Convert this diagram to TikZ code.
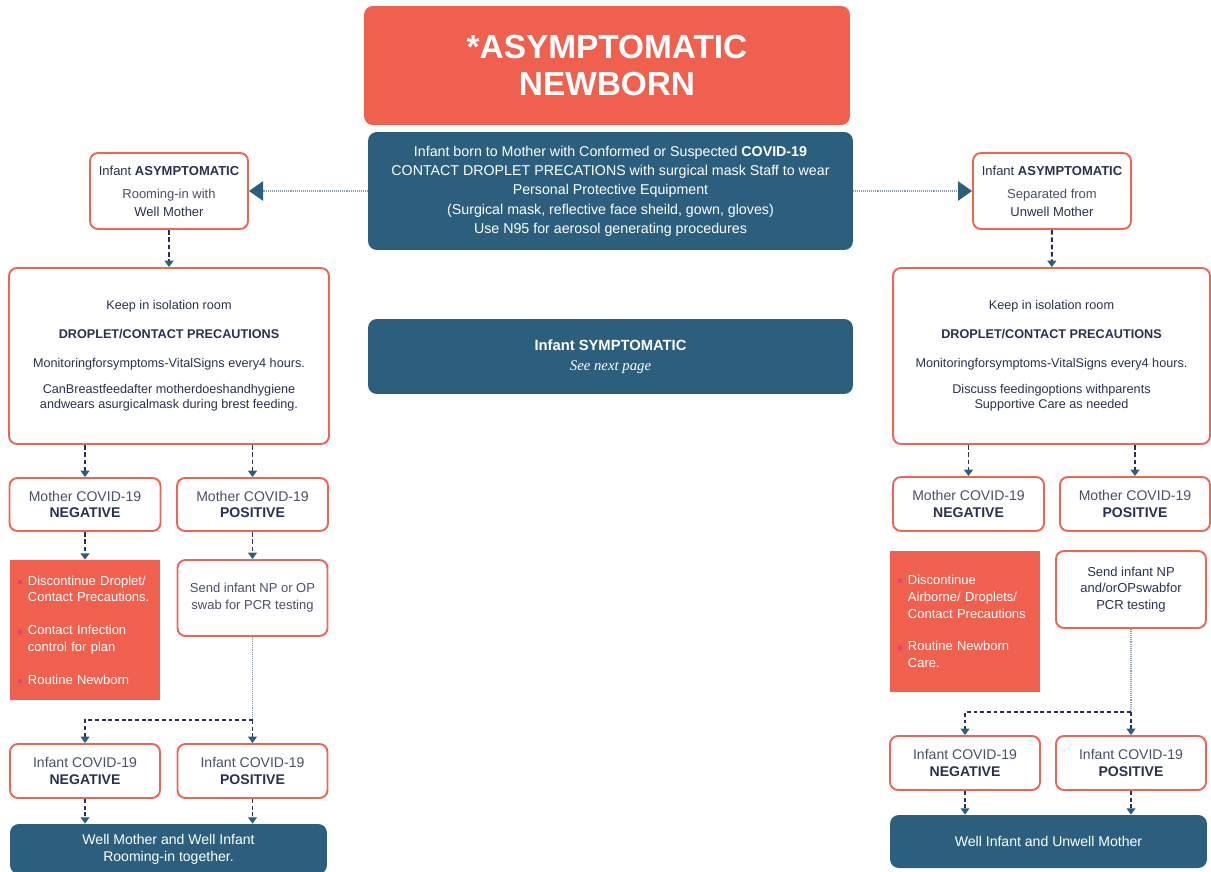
\documentclass[tikz,border=0pt]{standalone}
\usepackage{fontspec}
\setmainfont{Liberation Sans}
\newfontfamily\seriffont{Liberation Serif}
\usepackage{tikz}
\usetikzlibrary{positioning, arrows.meta}
\definecolor{coral}{HTML}{EF604F}
\definecolor{cline}{HTML}{EE6553}
\definecolor{tealc}{HTML}{2C5F7D}
\definecolor{navy}{HTML}{2A3150}
\definecolor{greynavy}{HTML}{4A5068}
\definecolor{dotgray}{HTML}{8C9BAC}
\definecolor{bulpink}{HTML}{E0457A}
\newcommand{\bul}{\makebox[5.7pt][l]{\raisebox{0.6pt}{\textcolor{bulpink}{\rule{2.3pt}{2.3pt}}}}}
\newcommand{\ind}{\hspace*{5.7pt}}

\begin{document}
\begin{tikzpicture}[x=0.02cm,y=-0.02cm,
    obox/.style={draw=cline, line width=1.1pt, rounded corners=4.5pt, fill=white,
        text=navy, align=center, inner sep=0pt},
    bbox/.style={fill=tealc, rounded corners=5pt, text=white, align=center, inner sep=0pt},
    rbox/.style={fill=coral, text=white, align=left, inner xsep=4.5pt, inner ysep=0pt},
    link/.style={navy, line width=1.1pt, dash pattern=on 2.6pt off 1.6pt,
        -{Triangle[width=5pt,length=3.6pt,color=tealc]}},
    thinlink/.style={link, line width=0.7pt, dash pattern=on 2.2pt off 1.6pt},
    dotline/.style={dotgray, line width=0.8pt, dash pattern=on 0.5pt off 0.6pt},
    bigarrow/.style={dotline, -{Triangle[width=11pt,length=8pt,color=tealc]}}]
\useasboundingbox (0,0) rectangle (1211,872);

% top of the chart
\node[fill=coral, rounded corners=5pt, text=white, align=center, inner sep=0pt,
    minimum width=9.72cm, minimum height=2.38cm,
    font=\fontsize{19}{21.5}\selectfont\bfseries] (title) at (607,65.5)
    {*ASYMPTOMATIC\\ NEWBORN};
\node[bbox, minimum width=9.7cm, minimum height=2.36cm,
    font=\fontsize{8.1}{11}\selectfont] (info) at (610.5,191)
    {Infant born to Mother with Conformed or Suspected \textbf{COVID-19}\\
     CONTACT DROPLET PRECATIONS with surgical mask Staff to wear\\
     Personal Protective Equipment\\
     (Surgical mask, reflective face sheild, gown, gloves)\\
     Use N95 for aerosol generating procedures};
\node[bbox, minimum width=9.7cm, minimum height=1.5cm,
    font=\fontsize{8.4}{11.3}\selectfont] (symp) at (610.5,356.5)
    {\textbf{Infant SYMPTOMATIC}\\ {\seriffont\itshape See next page}};

% left branch
\node[obox, minimum width=3.16cm, minimum height=1.52cm,
    font=\fontsize{7.4}{10.2}\selectfont] (lt) at (169,191)
    {Infant \textbf{ASYMPTOMATIC}\\[2.8pt] {\color{greynavy}Rooming-in with}\\ Well Mother};
\node[obox, minimum width=6.4cm, minimum height=3.52cm,
    font=\fontsize{7.2}{9}\selectfont] (lbig) at (169,356)
    {Keep in isolation room\\[7.4pt]
     \textbf{DROPLET/CONTACT PRECAUTIONS}\\[7.4pt]
     Monitoringforsymptoms-VitalSigns every4 hours.\\[5.7pt]
     CanBreastfeedafter motherdoeshandhygiene\\
     andwears asurgicalmask during brest feeding.};
\node[obox, minimum width=3.02cm, minimum height=1.06cm,
    font=\fontsize{8}{9.6}\selectfont] (lmn) at (85,504.5)
    {{\color{greynavy}Mother COVID-19}\\ \textbf{NEGATIVE}};
\node[obox, minimum width=3.02cm, minimum height=1.06cm,
    font=\fontsize{8}{9.6}\selectfont] (lmp) at (252.5,504.5)
    {{\color{greynavy}Mother COVID-19}\\ \textbf{POSITIVE}};
\node[rbox, text width=3.0cm-9pt, minimum height=2.8cm,
    font=\fontsize{7.4}{9.6}\selectfont] (lred) at (85,630)
    {\bul Discontinue Droplet/\\ \ind Contact Precautions.\\[9pt]
     \bul Contact Infection\\ \ind control for plan\\[9pt]
     \bul Routine Newborn};
\node[obox, minimum width=3.0cm, minimum height=1.52cm,
    font=\fontsize{7.4}{9.6}\selectfont] (lsend) at (252.5,598)
    {{\color{greynavy}Send infant NP or OP}\\ {\color{greynavy}swab for PCR testing}};
\node[obox, minimum width=3.0cm, minimum height=1.08cm,
    font=\fontsize{8}{9.6}\selectfont] (lin) at (85,771)
    {{\color{greynavy}Infant COVID-19}\\ \textbf{NEGATIVE}};
\node[obox, minimum width=3.0cm, minimum height=1.08cm,
    font=\fontsize{8}{9.6}\selectfont] (lip) at (252.5,771)
    {{\color{greynavy}Infant COVID-19}\\ \textbf{POSITIVE}};
\node[bbox, minimum width=6.34cm, minimum height=1.0cm,
    font=\fontsize{8}{9.6}\selectfont] (lwell) at (168.5,849)
    {Well Mother and Well Infant\\ Rooming-in together.};

% right branch
\node[obox, minimum width=3.16cm, minimum height=1.52cm,
    font=\fontsize{7.4}{10.2}\selectfont] (rt) at (1052,191)
    {Infant \textbf{ASYMPTOMATIC}\\[2.8pt] {\color{greynavy}Separated from}\\ Unwell Mother};
\node[obox, minimum width=6.34cm, minimum height=3.52cm,
    font=\fontsize{7.2}{9}\selectfont] (rbig) at (1051.5,356)
    {Keep in isolation room\\[7.4pt]
     \textbf{DROPLET/CONTACT PRECAUTIONS}\\[7.4pt]
     Monitoringforsymptoms-VitalSigns every4 hours.\\[5.7pt]
     Discuss feedingoptions withparents\\
     Supportive Care as needed};
\node[obox, minimum width=3.02cm, minimum height=1.08cm,
    font=\fontsize{8}{9.6}\selectfont] (rmn) at (968.5,504)
    {{\color{greynavy}Mother COVID-19}\\ \textbf{NEGATIVE}};
\node[obox, minimum width=3.0cm, minimum height=1.08cm,
    font=\fontsize{8}{9.6}\selectfont] (rmp) at (1135,504)
    {{\color{greynavy}Mother COVID-19}\\ \textbf{POSITIVE}};
\node[rbox, text width=3.0cm-9pt, minimum height=2.82cm,
    font=\fontsize{7.4}{9.6}\selectfont] (rred) at (965,621.5)
    {\bul Discontinue\\ \ind Airborne/ Droplets/\\ \ind Contact Precautions\\[9pt]
     \bul Routine Newborn\\ \ind Care.};
\node[obox, minimum width=3.0cm, minimum height=1.54cm,
    font=\fontsize{7.4}{9.6}\selectfont] (rsend) at (1131,589.5)
    {Send infant NP\\ and/orOPswabfor\\ PCR testing};
\node[obox, minimum width=3.0cm, minimum height=1.08cm,
    font=\fontsize{8}{9.6}\selectfont] (rin) at (965,763)
    {{\color{greynavy}Infant COVID-19}\\ \textbf{NEGATIVE}};
\node[obox, minimum width=3.0cm, minimum height=1.08cm,
    font=\fontsize{8}{9.6}\selectfont] (rip) at (1131,763)
    {{\color{greynavy}Infant COVID-19}\\ \textbf{POSITIVE}};
\node[bbox, minimum width=6.34cm, minimum height=1.06cm,
    font=\fontsize{8}{9.6}\selectfont] (rwell) at (1048.5,841.5)
    {Well Infant and Unwell Mother};

\coordinate (lbr) at (252.5,720);
\coordinate (rbr) at (1131,712);

\path[bigarrow] (info.west) edge (lt.east)
    (info.east) edge (rt.west);
\path[link]
    (lt) edge (lbig)
    (lbig.south -| lmn) edge (lmn)
    (lbig.south -| lmp) edge (lmp)
    (lmn) edge (lred)
    (lmp) edge (lsend)
    (rt) edge (rbig)
    (rbig.south -| rmn) edge (rmn)
    (rbig.south -| rmp) edge (rmp);
\path[thinlink]
    (lin) edge (lin |- lwell.north)
    (lip) edge (lip |- lwell.north)
    (rin) edge (rin |- rwell.north)
    (rip) edge (rip |- rwell.north);
\draw[dotline] (lsend) -- (lbr);
\draw[dotline] (rsend) -- (rbr);
\path[thinlink]
    (lbr) edge (lip)
    (rbr) edge (rip);
\draw[thinlink] (lbr) -| (lin);
\draw[thinlink] (rbr) -| (rin);
\end{tikzpicture}
\end{document}
